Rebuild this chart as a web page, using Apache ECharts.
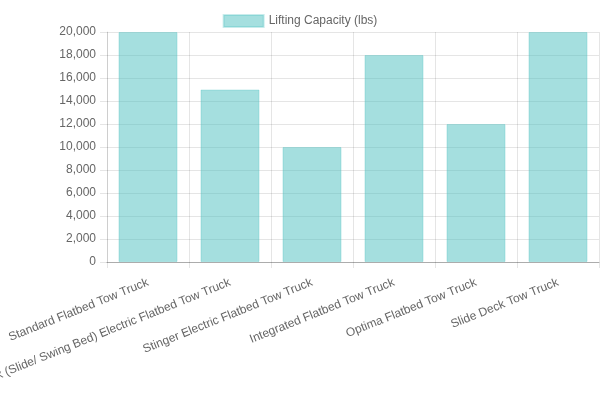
<!DOCTYPE html>
<html>
<head>
<meta charset="utf-8">
<script src="https://cdn.jsdelivr.net/npm/echarts@6/dist/echarts.min.js"></script>
<style>html,body{margin:0;padding:0;background:#fff}#c{width:600px;height:400px}</style>
</head>
<body>
<div id="c"></div>
<script>
var categories = ["Standard Flatbed Tow Truck", "Tilt Deck (Slide/ Swing Bed) Electric Flatbed Tow Truck", "Stinger Electric Flatbed Tow Truck", "Integrated Flatbed Tow Truck", "Optima Flatbed Tow Truck", "Slide Deck Tow Truck"];
var liftingCapacity = [20000, 15000, 10000, 18000, 12000, 20000];
var seriesName = "Lifting Capacity (lbs)";

var chart = echarts.init(document.getElementById('c'), null, {renderer: 'canvas'});
var font = 'Liberation Sans, Arial, Helvetica, sans-serif';
chart.setOption({
  animation: false,
  textStyle: {fontFamily: font},
  legend: {
    top: 9, left: 'center',
    itemWidth: 40, itemHeight: 12, itemGap: 10,
    icon: 'rect',
    textStyle: {color: '#666', fontSize: 12, fontFamily: font},
    data: [seriesName]
  },
  grid: {left: 107, right: 1, top: 32, bottom: 138, containLabel: false, outerBoundsMode: 'none'},
  xAxis: {
    type: 'category',
    data: categories,
    boundaryGap: true,
    axisLine: {show: true, lineStyle: {color: 'rgba(0,0,0,0.25)', width: 1}},
    axisTick: {show: true, length: 6, lineStyle: {color: 'rgba(0,0,0,0.1)'}},
    splitLine: {show: true, lineStyle: {color: 'rgba(0,0,0,0.1)'}},
    axisLabel: {rotate: 22, color: '#666', fontSize: 12, fontFamily: font, margin: 20, interval: 0}
  },
  yAxis: {
    type: 'value',
    min: 0, max: 20000, interval: 2000,
    axisLine: {show: true, lineStyle: {color: 'rgba(0,0,0,0.1)'}},
    axisTick: {show: true, length: 7, lineStyle: {color: 'rgba(0,0,0,0.1)'}},
    splitLine: {show: true, lineStyle: {color: 'rgba(0,0,0,0.1)'}},
    axisLabel: {color: '#666', fontSize: 12, fontFamily: font, margin: 11, padding: [4, 0, 0, 0],
      formatter: function (v) { return v.toLocaleString('en-US'); }}
  },
  series: [{
    name: seriesName,
    type: 'bar',
    data: liftingCapacity,
    barWidth: '72%',
    z: 1,
    itemStyle: {color: 'rgba(75,192,192,0.5)', borderColor: 'rgba(75,192,192,0.3)', borderWidth: 1}
  }]
});
</script>
</body>
</html>
